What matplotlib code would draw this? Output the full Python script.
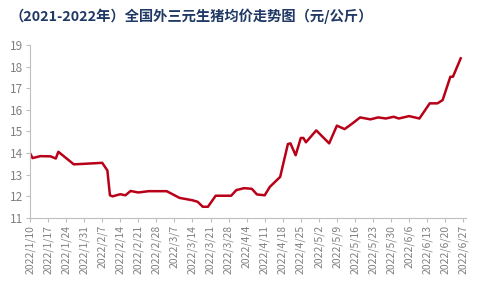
import matplotlib
matplotlib.use("Agg")
import matplotlib.pyplot as plt
import pandas as pd

plt.rcParams['font.family'] = ['Noto Sans CJK SC', 'DejaVu Sans']

# price points (yuan/kg)
dates = ['2022-01-10', '2022-01-11', '2022-01-14', '2022-01-18', '2022-01-20',
         '2022-01-21', '2022-01-27', '2022-02-07', '2022-02-09', '2022-02-10',
         '2022-02-11', '2022-02-14', '2022-02-16', '2022-02-18', '2022-02-21',
         '2022-02-25', '2022-03-04', '2022-03-09', '2022-03-14', '2022-03-16',
         '2022-03-18', '2022-03-20', '2022-03-23', '2022-03-29', '2022-03-31',
         '2022-04-03', '2022-04-06', '2022-04-08', '2022-04-11', '2022-04-13',
         '2022-04-17', '2022-04-20', '2022-04-21', '2022-04-23', '2022-04-25',
         '2022-04-26', '2022-04-27', '2022-05-01', '2022-05-06', '2022-05-09',
         '2022-05-12', '2022-05-15', '2022-05-18', '2022-05-22', '2022-05-25',
         '2022-05-28', '2022-05-31', '2022-06-02', '2022-06-06', '2022-06-10',
         '2022-06-14', '2022-06-17', '2022-06-19', '2022-06-22', '2022-06-23',
         '2022-06-26']
prices = [14.00, 13.77, 13.86, 13.85, 13.75,
          14.06, 13.48, 13.55, 13.20, 12.05,
          12.00, 12.10, 12.05, 12.25, 12.18,
          12.24, 12.24, 11.93, 11.82, 11.75,
          11.52, 11.52, 12.03, 12.03, 12.29,
          12.38, 12.35, 12.09, 12.05, 12.44,
          12.90, 14.42, 14.45, 13.90, 14.70,
          14.70, 14.50, 15.05, 14.45, 15.27,
          15.11, 15.37, 15.65, 15.56, 15.65,
          15.60, 15.68, 15.60, 15.71, 15.60,
          16.30, 16.30, 16.45, 17.53, 17.53,
          18.38]

tick_dates = pd.date_range('2022-01-10', '2022-06-27', freq='7D')
tick_labels = [f"{d.year}/{d.month}/{d.day}" for d in tick_dates]

title = '（2021-2022年）全国外三元生猪均价走势图（元/公斤）'

x = pd.to_datetime(dates)

fig = plt.figure(figsize=(4.8, 2.88), dpi=100)
ax = fig.add_axes([0.0625, 0.243, 0.908, 0.601])

ax.plot(x, prices, color='#B80018', lw=1.8, solid_joinstyle='round')

ax.set_ylim(11, 19)
ax.set_yticks(range(11, 20))
ax.set_xlim(tick_dates[0], tick_dates[-1] + pd.Timedelta(days=1))
ax.set_xticks(tick_dates)
ax.set_xticklabels(tick_labels, rotation=90)

for s in ['top', 'right']:
    ax.spines[s].set_visible(False)
for s in ['left', 'bottom']:
    ax.spines[s].set_color('#BFBFBF')
    ax.spines[s].set_linewidth(0.8)

ax.tick_params(axis='y', colors='#BFBFBF', labelcolor='#808080',
               labelsize=8.5, length=3, pad=2)
ax.tick_params(axis='x', colors='#BFBFBF', labelcolor='#808080',
               labelsize=7.5, length=3, pad=2)

fig.text(0.02, 0.945, title, color='#1F3864', fontsize=10.3,
         fontweight='bold', ha='left', va='center')

fig.savefig('out.png', dpi=100)
